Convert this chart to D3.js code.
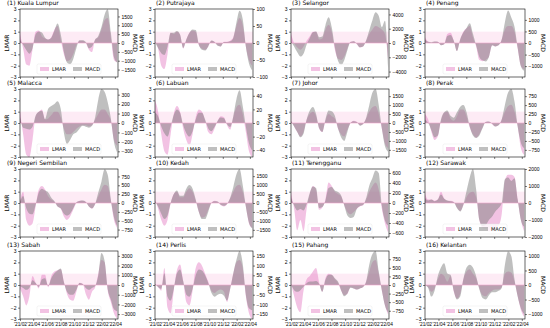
<!DOCTYPE html>
<html>
<head>
<meta charset="utf-8">
<script src="https://cdn.jsdelivr.net/npm/d3@7"></script>
<style>
  body { margin: 0; background: #fff; }
  svg { font-family: "DejaVu Sans", sans-serif; }
</style>
</head>
<body>
<svg id="chart" width="550" height="328"></svg>
<script>
// biweekly sample dates
const dates = ["2021-02-01","2021-02-15","2021-03-01","2021-03-15","2021-03-29","2021-04-12","2021-04-26","2021-05-10",
  "2021-05-24","2021-06-07","2021-06-21","2021-07-05","2021-07-19","2021-08-02","2021-08-16","2021-08-30",
  "2021-09-13","2021-09-27","2021-10-11","2021-10-25","2021-11-08","2021-11-22","2021-12-06","2021-12-20",
  "2022-01-03","2022-01-17","2022-01-31","2022-02-14","2022-02-28","2022-03-14","2022-03-28","2022-04-11"]

const regions = ["Kuala Lumpur","Putrajaya","Selangor","Penang","Malacca","Labuan","Johor","Perak",
  "Negeri Sembilan","Kedah","Terengganu","Sarawak","Sabah","Perlis","Pahang","Kelantan"]

const xTickLabels = ["'21/02","'21/04","'21/06","'21/08","'21/10","'21/12","'22/02","'22/04"]
const lmarTicks = [-3, -2, -1, 0, 1, 2, 3]

// right axis half-range and tick step, per region
const macdLimits = [1920, 100, 4760, 1470, 360, 50, 1900, 950, 960, 1900, 680, 2000, 3500, 175, 990, 1170]
const macdSteps  = [500, 50, 2000, 500, 100, 20, 500, 250, 250, 500, 200, 1000, 1000, 50, 250, 500]

const lmarValues = [
  [0.8,-0.5,-1.9,-2.0,-0.6,1.0,1.1,0.6,0.4,0.3,0.5,1.2,1.5,0.3,-1.0,-1.6,-1.5,-1.0,-0.2,0.2,0.2,0.0,-0.6,-0.8,0.3,0.5,1.2,2.0,2.2,0.5,-1.5,-1.7],
  [0.1,-0.5,-2.0,-2.3,-1.0,0.9,0.8,1.0,0.7,-0.5,0.3,0.9,1.1,1.0,-0.2,-0.5,-0.6,-0.3,0.2,0.1,-0.2,-0.3,0.1,0.1,0.2,0.5,1.5,2.2,1.6,-0.3,-1.5,-2.0],
  [0.8,0.0,-0.4,-0.6,-0.3,0.2,0.6,1.0,1.0,0.3,0.4,1.2,1.6,1.0,-0.6,-1.4,-1.5,-1.2,-0.5,0.1,0.15,-0.1,-0.4,-0.3,0.2,0.8,1.2,1.5,1.4,1.2,0.8,-1.5],
  [0.5,0.1,0.0,0.1,0.1,-0.2,-0.1,0.8,0.9,0.2,-0.7,0.3,1.0,1.3,1.5,0.5,-0.3,-1.5,-1.6,-1.5,-1.2,-0.2,-0.3,-0.2,0.3,1.2,1.5,1.5,1.0,-0.5,-2.0,-2.3],
  [1.0,-1.0,-2.8,-3.0,-1.5,0.6,1.0,1.2,0.3,0.4,0.7,1.0,1.0,0.5,-0.5,-1.0,-1.0,-0.8,-0.5,-0.3,-0.2,-0.2,-0.3,-0.2,0.3,0.8,1.2,1.2,0.8,0.2,-1.5,-2.0],
  [2.0,1.0,-1.0,-2.5,-2.8,-1.0,0.8,1.5,1.0,-0.5,-1.5,-2.0,-1.0,0.5,1.2,1.0,0.2,-0.8,-1.0,-0.5,0.2,0.6,0.5,-0.2,-0.6,0.5,1.4,1.6,0.8,-0.8,-2.5,-3.0],
  [0.2,-0.3,-0.8,-1.2,-0.8,0.3,0.8,1.0,0.6,-0.5,-0.8,0.2,0.8,0.6,0.4,-0.5,-1.0,-1.2,-0.6,0.0,0.2,0.1,-0.2,-0.1,0.4,1.0,1.4,1.5,0.8,-0.5,-1.8,-2.2],
  [0.8,0.3,-0.8,-1.5,-1.2,0.2,0.9,1.0,0.4,0.2,0.6,1.2,1.2,0.6,-0.4,-1.0,-1.3,-1.0,-0.4,0.1,0.1,-0.1,-0.3,-0.2,0.3,1.0,1.5,1.6,1.0,-0.3,-2.2,-2.8],
  [0.1,1.0,-1.5,-2.0,-1.8,-0.3,1.2,1.5,1.2,0.6,0.3,0.1,-0.3,-0.5,-1.2,-1.5,-1.2,-0.6,0.0,0.2,0.2,0.1,-0.3,-0.5,-0.1,0.6,1.2,1.6,1.5,0.2,-1.5,-2.2],
  [0.3,-0.5,-1.5,-2.0,-1.5,0.0,0.8,1.0,0.5,0.5,1.0,1.3,1.0,0.2,-0.8,-1.3,-1.2,-0.6,0.0,0.2,0.1,-0.2,-0.3,-0.1,0.4,1.0,1.5,1.6,1.0,-0.3,-1.8,-2.2],
  [0.8,-0.5,-2.4,-1.5,-2.5,-0.5,0.8,1.5,1.2,-0.6,-0.4,0.3,1.8,1.5,1.0,0.8,0.6,-0.2,-0.8,-1.0,-0.8,-0.5,-0.3,-0.2,0.3,1.0,1.5,1.8,1.2,-0.5,-1.8,-2.6],
  [0.8,0.3,0.3,0.2,0.3,1.0,0.4,0.2,0.2,0.1,-0.4,-0.7,-0.2,0.5,0.9,1.0,0.5,-1.5,-2.2,-2.3,-2.5,-2.4,-2.2,-2.0,-1.0,2.0,2.5,2.5,2.3,0.3,-1.5,-2.5],
  [-0.3,-1.0,-1.8,-1.0,0.8,0.2,-0.3,0.9,0.9,-0.2,0.8,1.2,1.3,1.4,0.3,-0.8,-1.3,-1.4,-0.6,0.2,0.1,-0.8,-1.3,-0.6,-0.2,1.0,2.2,2.0,-0.5,-1.5,-2.5,-3.0],
  [0.1,-0.2,-0.5,1.5,-2.0,-2.5,-0.5,1.3,1.8,0.3,-1.5,-1.8,-0.5,1.5,2.0,1.7,1.0,0.3,-0.5,-0.7,-0.5,-0.4,-0.6,-1.5,-0.3,1.0,2.0,2.2,1.5,-1.0,-2.5,-3.0],
  [0.1,-1.0,-2.0,-2.4,-0.5,0.5,0.8,1.2,1.5,0.2,-0.6,0.6,1.0,0.9,0.5,0.2,-0.5,-0.9,-0.8,-0.2,-0.3,-0.4,-0.3,-0.2,0.3,1.2,2.0,2.2,1.0,-0.5,-1.8,-2.6],
  [0.0,-0.2,-0.6,-0.3,0.5,1.0,0.8,0.3,0.8,-0.6,-1.2,-0.8,0.5,1.2,1.4,1.0,0.6,-0.3,-0.9,-1.0,-0.7,-0.5,-0.4,-0.4,-0.2,1.0,1.2,1.1,0.3,-1.0,-2.2,-2.8]
]

const macdValues = [
  [200,-100,-400,-600,-300,500,650,600,300,200,300,700,1100,500,-500,-1100,-1200,-900,-300,150,150,50,-300,-200,200,400,900,1600,1900,600,-800,-1100],
  [3,-15,-30,-35,-10,30,30,35,25,-15,10,30,40,38,-5,-20,-22,-10,7,3,-8,-10,3,3,5,15,60,95,70,-10,-60,-80],
  [200,-500,-1300,-1900,-1500,-200,700,1500,1600,800,900,2500,3600,2200,-600,-2500,-3100,-2400,-1000,150,250,-100,-600,-500,400,1800,3200,4300,3800,2200,3100,-3500],
  [150,50,30,60,50,-100,-50,300,350,100,-350,150,450,650,850,400,-100,-600,-750,-800,-600,-100,-150,-100,150,900,1400,1100,700,-200,-1000,-1200],
  [60,-50,-60,-70,-40,80,120,130,40,150,180,200,230,150,-100,-220,-180,-120,-100,-60,-30,-40,-50,-30,60,250,360,330,220,50,-200,-310],
  [15,10,-5,-15,-20,-5,12,20,15,-3,-15,-20,-12,5,15,15,5,-8,-12,-6,3,8,7,-2,-6,10,35,48,25,-5,-30,-40],
  [100,-200,-500,-800,-600,200,700,900,500,-300,-500,200,700,650,400,-300,-800,-1000,-500,0,100,50,-150,-50,300,1000,1700,1900,1000,-300,-1300,-1600],
  [100,0,-200,-400,-350,100,300,350,200,150,300,450,500,300,-100,-350,-420,-350,-150,30,40,-20,-100,-60,100,500,850,950,600,-100,-550,-700],
  [30,200,-150,-300,-320,-50,300,400,350,300,150,50,-100,-150,-300,-350,-300,-150,20,60,70,30,-100,-150,-20,300,600,950,800,100,-400,-650],
  [100,-200,-600,-900,-700,0,500,700,400,400,800,1000,800,200,-500,-900,-900,-500,0,100,80,-100,-150,-50,300,900,1600,1900,1000,-200,-1100,-1400],
  [100,-50,-150,-120,-150,-20,200,330,300,-100,-80,50,300,320,250,220,150,-50,-250,-300,-280,-120,-60,-40,100,350,500,650,600,-50,-350,-450],
  [300,150,200,100,200,500,250,150,100,50,-300,-500,-100,700,1500,2000,800,-1000,-1350,-1300,-1000,-800,-500,-300,0,1400,1500,1300,1450,200,-1000,-1400],
  [-100,-300,-500,-300,500,200,-200,600,700,-100,700,1200,1500,1700,300,-700,-1000,-1000,-500,200,100,-300,-500,-300,-100,1000,3300,2500,-400,-1500,-2500,-2700],
  [5,-10,-20,60,-60,-80,-20,60,80,20,-50,-60,-20,50,80,75,50,10,-40,-60,-50,-45,-55,-80,-20,60,130,175,110,-50,-120,-130],
  [20,-150,-200,-150,-50,50,100,100,120,30,-200,150,300,300,200,100,-150,-330,-250,-80,-100,-130,-100,-60,100,600,900,990,400,-150,-600,-800],
  [0,-100,-400,-200,300,600,750,400,350,-200,-500,-400,200,600,700,600,300,-150,-450,-500,-350,-250,-250,-200,-100,700,1150,1000,200,-400,-800,-1000]
]

const colLeft = [20, 155, 291, 425]
const colWidth = [98, 98, 98, 100]
const rowTop = [9, 89, 169, 251]
const plotH = 68

const lmarColor = '#e377c2'
const macdColor = '#7f7f7f'

const parse = d3.timeParse('%Y-%m-%d')
const dateObjs = dates.map(parse)
const xDomain = [parse('2021-02-01'), parse('2022-04-15')]
const xTickDates = ['2021-02-01','2021-04-01','2021-06-01','2021-08-01','2021-10-01','2021-12-01','2022-02-01','2022-04-01'].map(parse)

const svg = d3.select('#chart')

regions.forEach((name, i) => {
  const row = Math.floor(i / 4), col = i % 4
  const w = colWidth[col], h = plotH
  const g = svg.append('g').attr('transform', `translate(${colLeft[col]},${rowTop[row]})`)

  const x = d3.scaleTime().domain(xDomain).range([0, w])
  const yL = d3.scaleLinear().domain([-3, 3]).range([h, 0])
  const yR = d3.scaleLinear().domain([-macdLimits[i], macdLimits[i]]).range([h, 0])

  const clipId = 'clip' + i
  g.append('clipPath').attr('id', clipId).append('rect').attr('width', w).attr('height', h)

  // light band between 0 and 1
  g.append('rect').attr('x', 0).attr('width', w)
    .attr('y', yL(1)).attr('height', yL(0) - yL(1))
    .attr('fill', '#fdebf5')

  const plot = g.append('g').attr('clip-path', `url(#${clipId})`)

  const lmar = lmarValues[i], macd = macdValues[i]
  const areaL = d3.area().curve(d3.curveMonotoneX)
    .x((d, k) => x(dateObjs[k])).y0(yL(0)).y1(d => yL(d))
  const areaR = d3.area().curve(d3.curveMonotoneX)
    .x((d, k) => x(dateObjs[k])).y0(yR(0)).y1(d => yR(d))

  plot.append('path').datum(lmar).attr('d', areaL)
    .attr('fill', lmarColor).attr('fill-opacity', 0.45)
  plot.append('path').datum(macd).attr('d', areaR)
    .attr('fill', macdColor).attr('fill-opacity', 0.5)
  plot.append('line').attr('x1', 0).attr('x2', w).attr('y1', yL(0)).attr('y2', yL(0))
    .attr('stroke', '#f3a6cf').attr('stroke-width', 0.6)

  // frame
  g.append('rect').attr('width', w).attr('height', h)
    .attr('fill', 'none').attr('stroke', '#000').attr('stroke-width', 0.6)

  // axes
  const axL = g.append('g').call(d3.axisLeft(yL).tickValues(lmarTicks).tickSize(2).tickPadding(1.5).tickFormat(d3.format('d')))
  const rTicks = d3.range(-Math.floor(macdLimits[i] / macdSteps[i]), Math.floor(macdLimits[i] / macdSteps[i]) + 1)
    .map(v => v * macdSteps[i])
  const axR = g.append('g').attr('transform', `translate(${w},0)`)
    .call(d3.axisRight(yR).tickValues(rTicks).tickSize(2).tickPadding(1.5).tickFormat(d3.format('d')))
  const axB = g.append('g').attr('transform', `translate(0,${h})`)
    .call(d3.axisBottom(x).tickValues(xTickDates).tickSize(2).tickPadding(1.5)
      .tickFormat((d, k) => row === 3 ? xTickLabels[k] : ''))
  ;[axL, axR, axB].forEach(a => {
    a.select('.domain').remove()
    a.selectAll('line').attr('stroke-width', 0.5)
    a.selectAll('text').style('font-size', '5px').attr('fill', '#000')
  })
  axB.selectAll('text').style('font-size', '4.8px')

  // titles and axis labels
  const titleX = col === 0 ? -13 : 1
  g.append('text').attr('x', titleX).attr('y', -3.8).style('font-size', '6px').attr('fill', '#000').text(`(${i + 1}) ${name}`)
  g.append('text').attr('transform', `translate(-11,${h / 2}) rotate(-90)`)
    .attr('text-anchor', 'middle').style('font-size', '6px').text('LMAR')
  const rlx = w + (col === 3 ? 16 : 15)
  g.append('text').attr('transform', `translate(${rlx},${h / 2}) rotate(90)`)
    .attr('text-anchor', 'middle').style('font-size', '6px').text('MACD')

  // legend
  const lg = g.append('g').attr('transform', `translate(${w / 2 - 32},${h - 13})`)
  lg.append('rect').attr('width', 64).attr('height', 10).attr('rx', 1.5)
    .attr('fill', '#fff').attr('fill-opacity', 0.8).attr('stroke', '#e4e4e4').attr('stroke-width', 0.4)
  const items = [{ label: 'LMAR', color: lmarColor, op: 0.45 }, { label: 'MACD', color: macdColor, op: 0.5 }]
  items.forEach((it, j) => {
    const ix = 3 + j * 33
    lg.append('rect').attr('x', ix).attr('y', 3).attr('width', 9).attr('height', 4)
      .attr('fill', it.color).attr('fill-opacity', it.op)
    lg.append('text').attr('x', ix + 12).attr('y', 7).style('font-size', '5px').text(it.label)
  })
})
</script>
</body>
</html>
